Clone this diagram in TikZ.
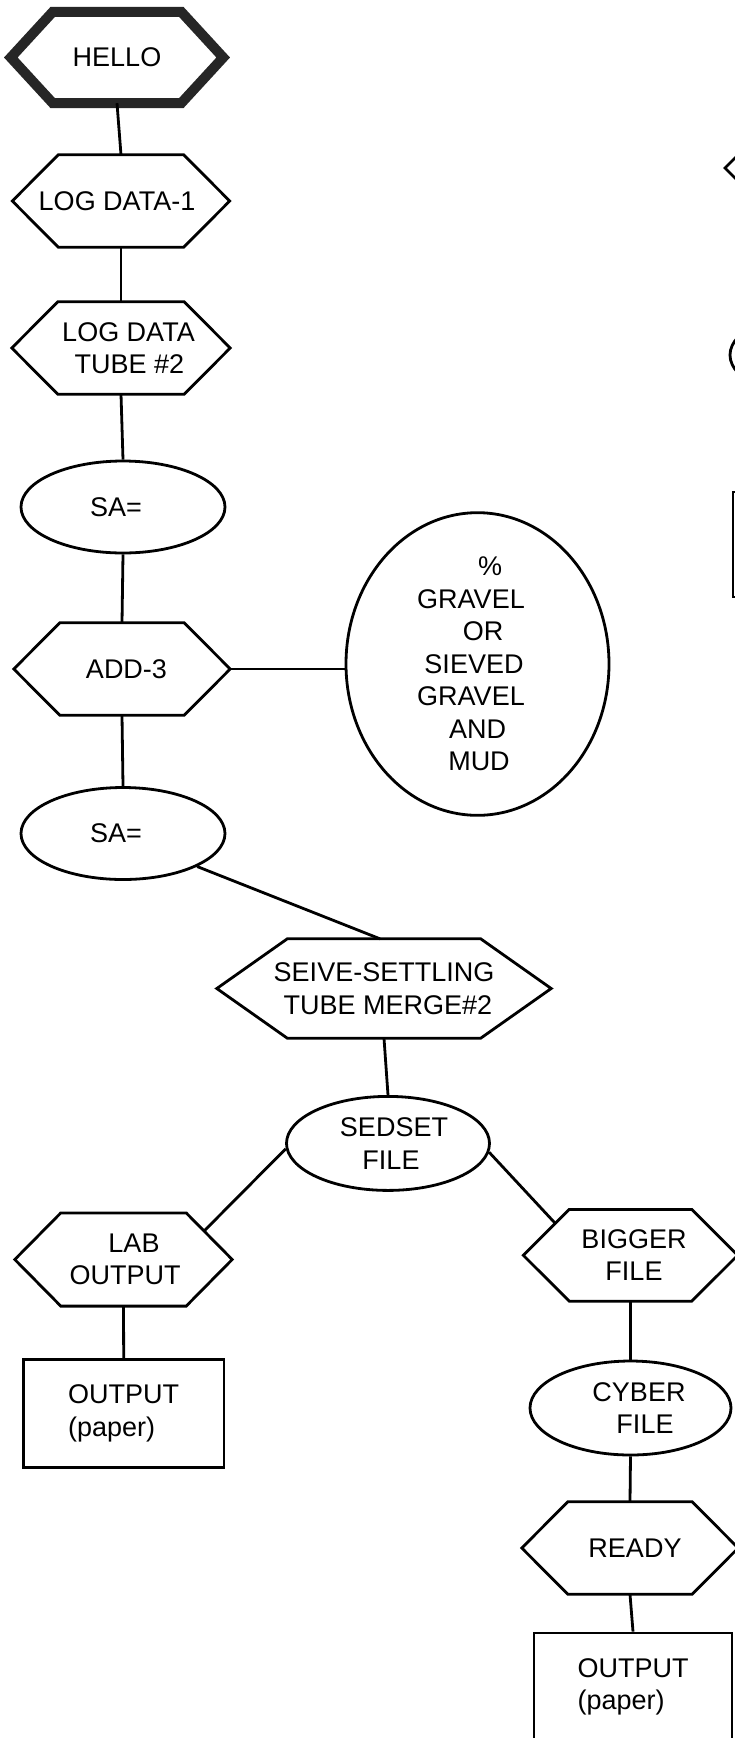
\documentclass[tikz,border=0pt]{standalone}
\usepackage{fontspec}
\setmainfont{Liberation Sans}
\usetikzlibrary{shapes.geometric}
\tikzset{
  lbl/.style={font=\fontsize{27}{32.5}\selectfont, align=center, inner sep=0pt},
  hexbox/.style={lbl, rectangle, draw=none},
  hexline/.style={line width=2.8pt, line join=miter},
  ellnode/.style={lbl, ellipse, draw, line width=2.8pt},
  boxnode/.style={lbl, rectangle, draw, line width=2.8pt, align=left},
  conn/.style={line width=2.8pt},
  partline/.style={line width=2.8pt},
}
% shift a centred line: \sr{amount} puts an invisible strut of that width
\newcommand{\sr}[1]{\rule{#1}{0pt}}
\newcommand{\hexnode}[8][]{%
  \node[hexbox, minimum width={2*#5}, minimum height={2*#6}] (#2) at (#3,#4) {#8};
  \draw[hexline,#1] (#2.west) -- ([xshift=#7]#2.north west) -- ([xshift=-#7]#2.north east)
     -- (#2.east) -- ([xshift=-#7]#2.south east) -- ([xshift=#7]#2.south west) -- cycle;
}
\begin{document}
\begin{tikzpicture}[x=1pt,y=-1pt]
\useasboundingbox (0,0) rectangle (735,1738);
\fill[white] (0,0) rectangle (735,1738);
\begin{scope}
\clip (0,0) rectangle (735,1738);
% left column
\hexnode[line width=10pt, draw=black!85]{hello}{117}{57.5}{106}{45.5}{42}{HELLO}
\hexnode{logone}{121}{201}{108.5}{46}{46}{LOG DATA-1\sr{8pt}}
\hexnode{logtwo}{121}{348}{109}{46}{46}{\sr{15pt}LOG DATA\\\sr{17pt}TUBE \#2}
\node[ellnode, minimum width=204, minimum height=92] (saone) at (123,507) {SA=\sr{14pt}};
\hexnode{addthree}{122}{669}{108}{46}{46}{\sr{9pt}ADD-3}
\node[ellnode, minimum width=263, minimum height=242] (gravel) at (477.5,664)
  {\sr{25pt}\%\\GRAVEL\sr{13pt}\\\sr{11pt}OR\\SIEVED\sr{7pt}\\GRAVEL\sr{13pt}\\AND\\\sr{3pt}MUD};
\node[ellnode, minimum width=204, minimum height=92] (satwo) at (123,833.5) {SA=\sr{14pt}};
\hexnode{seive}{384}{988.5}{167}{49.5}{70.5}{SEIVE-SETTLING\\\sr{8pt}TUBE MERGE\#2}
\node[ellnode, minimum width=203, minimum height=94] (sedset) at (388,1143.4) {\sr{12pt}SEDSET\\\sr{6pt}FILE};
\hexnode{lab}{123.5}{1259.5}{108.5}{46.4}{46}{\sr{21pt}LAB\\\sr{3pt}OUTPUT}
\node[boxnode, minimum width=200.6, minimum height=108] (outone) at (123.7,1413.6) {OUTPUT\\(paper)};
% right column
\hexnode{bigger}{630.5}{1255.3}{107}{45.7}{46}{\sr{7pt}BIGGER\\\sr{7pt}FILE}
\node[ellnode, minimum width=201, minimum height=94] (cyber) at (630.5,1408) {\sr{17pt}CYBER\\\sr{29pt}FILE};
\hexnode{ready}{630}{1548}{108}{46}{46}{\sr{10pt}READY}
\node[boxnode, minimum width=198, minimum height=108] (outtwo) at (633,1687) {OUTPUT\\(paper)};
% connectors
\draw[conn] (hello.south) -- (logone.north);
\draw[conn] (logone.south) -- (logtwo.north);
\draw[conn] (logtwo.south) -- (saone.north);
\draw[conn] (saone.south) -- (addthree.north);
\draw[conn] (addthree.east) -- (addthree.east -| gravel.west);
\draw[conn] (addthree.south) -- (satwo.north);
\draw[conn] (satwo.-24) -- ([xshift=-4]seive.north);
\draw[conn] (seive.south) -- (sedset.north);
\draw[conn] (sedset.183) -- ([xshift=-28,yshift=-18]lab.north east);
\draw[conn] (sedset.-5) -- ([xshift=32,yshift=-14]bigger.north west);
\draw[conn] (lab.south) -- (outone.north);
\draw[conn] (bigger.south) -- (cyber.north);
\draw[conn] (cyber.south) -- (ready.north);
\draw[conn] (ready.south) -- (outtwo.north);
% partly visible shapes of a further column, cut by the right edge
\draw[partline, line join=miter] (771,122) -- (725,168) -- (771,214);
\draw[partline] (832,355) ellipse [x radius=102, y radius=46];
\draw[partline] (733,492) rectangle (935,597);
\end{scope}
\end{tikzpicture}
\end{document}
